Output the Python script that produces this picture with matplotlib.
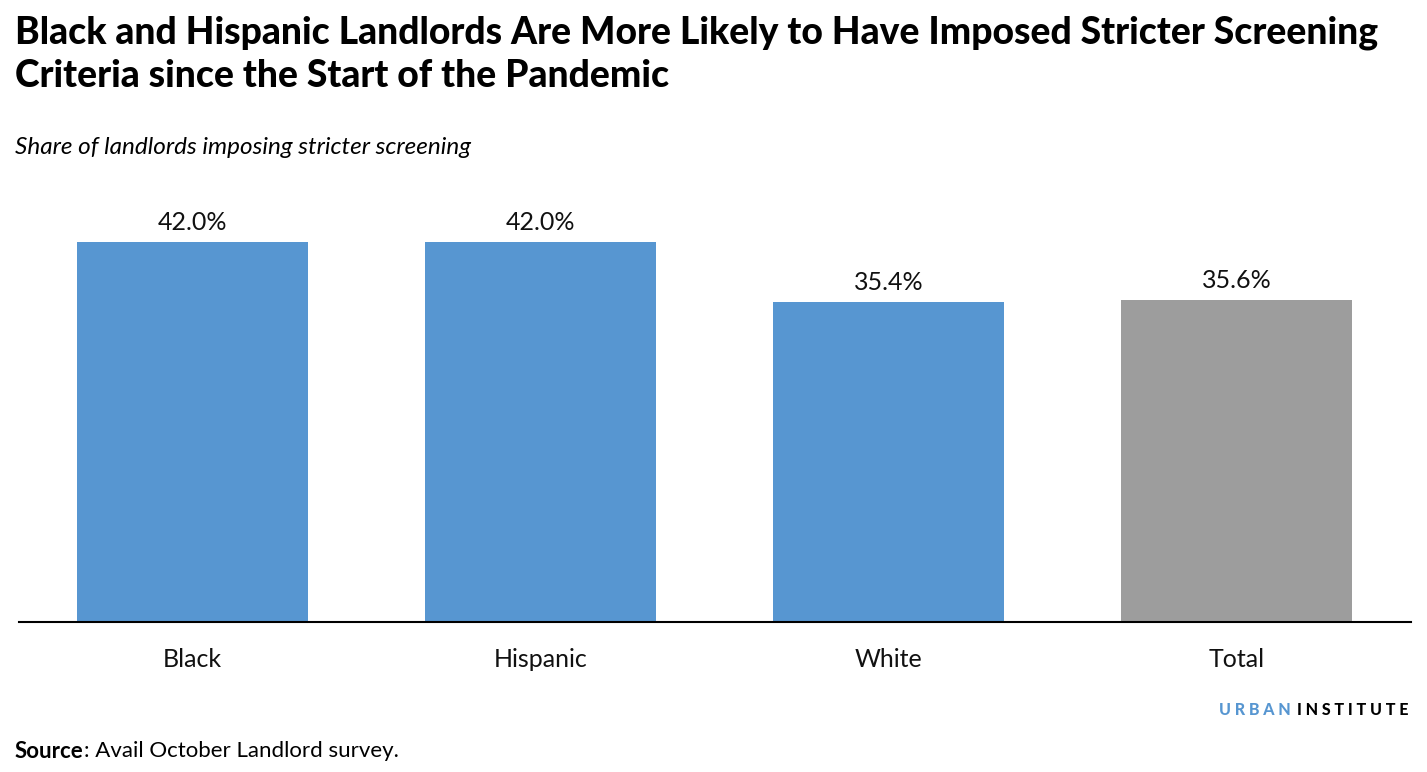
import matplotlib
matplotlib.use("Agg")
import matplotlib.pyplot as plt

categories = ["Black", "Hispanic", "White", "Total"]
shares = [42.0, 42.0, 35.4, 35.6]
bar_colors = ["#5796d1", "#5796d1", "#5796d1", "#9d9d9d"]

plt.rcParams["font.family"] = ["Lato", "DejaVu Sans"]

W, H = 1427, 772
fig = plt.figure(figsize=(W / 100, H / 100), dpi=100)

left, right = 18.5 / W, 1410.5 / W
bottom = 1 - 622 / H
top_px = 622 - 48 * (380 / 42.0)
ax = fig.add_axes([left, bottom, right - left, (622 - top_px) / H])

x = range(len(categories))
bars = ax.bar(x, shares, width=0.664, color=bar_colors)
ax.set_xlim(-0.5, 3.5)
ax.set_ylim(0, 48)

for b, v in zip(bars, shares):
    ax.text(b.get_x() + b.get_width() / 2, v + 0.9, f"{v:.1f}%",
            ha="center", va="bottom", fontsize=18, color="#111111")

for s in ["top", "right", "left"]:
    ax.spines[s].set_visible(False)
ax.spines["bottom"].set_linewidth(1.5)
ax.spines["bottom"].set_color("black")
ax.set_yticks([])
ax.set_xticks(list(x))
ax.set_xticklabels(categories, fontsize=18, color="#111111")
ax.tick_params(axis="x", length=0, pad=19)

# titles
fig.text(15 / W, 1 - 33 / H, "Black and Hispanic Landlords Are More Likely to Have Imposed Stricter Screening",
         fontsize=26.8, fontweight="black", va="center", ha="left")
fig.text(15 / W, 1 - 76 / H, "Criteria since the Start of the Pandemic",
         fontsize=26.8, fontweight="black", va="center", ha="left")
fig.text(15 / W, 1 - 148 / H, "Share of landlords imposing stricter screening",
         fontsize=17.5, style="italic", va="center", ha="left")

# source line
src = fig.text(15 / W, 1 - 751 / H, "Source", fontsize=16, fontweight="bold", va="center", ha="left")
fig.text(0, 0.5, ": Avail October Landlord survey.", fontsize=16, va="center", ha="left",
         transform=matplotlib.transforms.offset_copy(fig.transFigure, fig=fig))
fig.texts[-1].remove()
fig.add_artist(matplotlib.text.Annotation(": Avail October Landlord survey.", xy=(1, 0.5),
               xycoords=src, va="center", ha="left", fontsize=16))

# logo
fig.text(1291 / W, 1 - 710 / H, "U R B A N", fontsize=11.5, fontweight="black", color="#5796d1",
         va="center", ha="right")
fig.text(1297 / W, 1 - 710 / H, "I N S T I T U T E", fontsize=11.5, fontweight="black", color="black",
         va="center", ha="left")

fig.savefig("out.png", dpi=100)
